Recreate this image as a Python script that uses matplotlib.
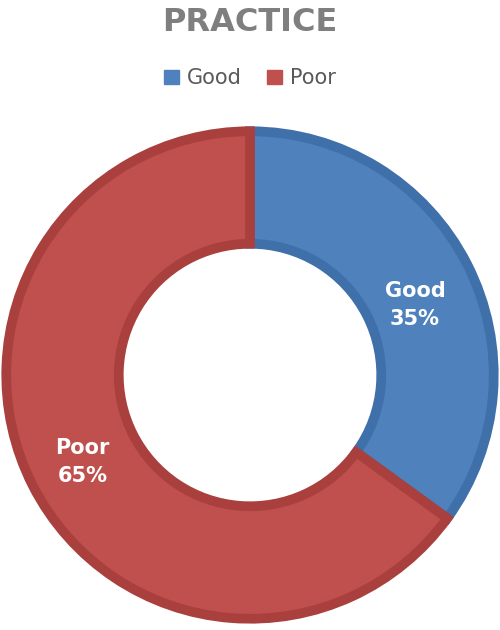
import matplotlib.pyplot as plt

labels = ['Good', 'Poor']
values = [35, 65]
colors = ['#4F81BD', '#C0504D']
edges = ['#3F70AA', '#A9403D']

fig = plt.figure(figsize=(5, 6.3), dpi=100)
fig.text(0.5, 0.965, 'PRACTICE', ha='center', va='center', fontsize=23,
         fontweight='bold', color='#7F7F7F', family='DejaVu Sans')

ax = fig.add_axes([0, 5 / 630, 1, 500 / 630])
wedges, _ = ax.pie(values, colors=colors, startangle=90, counterclock=False,
                   radius=0.975, wedgeprops=dict(width=0.45, linewidth=7))
for w, e in zip(wedges, edges):
    w.set_edgecolor(e)
    w.set_joinstyle('miter')
ax.set_xlim(-1, 1)
ax.set_ylim(-1, 1)
ax.set_aspect('equal')
ax.axis('off')

ax.text(0.66, 0.28, 'Good\n35%', ha='center', va='center', color='white',
        fontsize=15, fontweight='bold', linespacing=1.5)
ax.text(-0.67, -0.35, 'Poor\n65%', ha='center', va='center', color='white',
        fontsize=15, fontweight='bold', linespacing=1.5)

handles = [plt.Rectangle((0, 0), 1, 1, color=c) for c in colors]
fig.legend(handles, labels, loc='center', bbox_to_anchor=(0.5, 0.876), ncol=2,
           frameon=False, fontsize=15, handlelength=0.7, handleheight=0.7,
           handletextpad=0.4, columnspacing=1.2, labelcolor='#595959')

fig.savefig('out.png', dpi=100)
